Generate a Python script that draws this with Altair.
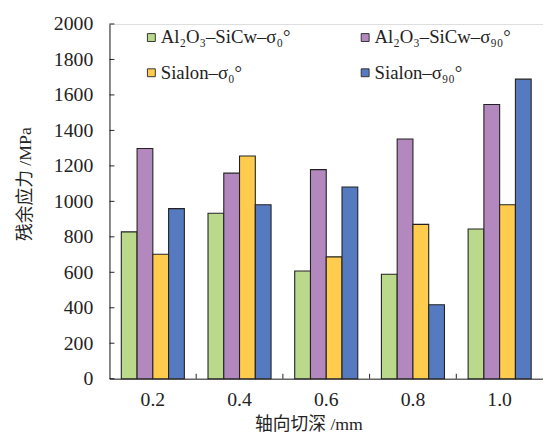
import altair as alt
import pandas as pd

depths = ["0.2", "0.4", "0.6", "0.8", "1.0"]
series = ["Al₂O₃–SiCw–σ₀°", "Al₂O₃–SiCw–σ₉₀°", "Sialon–σ₀°", "Sialon–σ₉₀°"]
al_0 = [828, 933, 607, 589, 844]
al_90 = [1298, 1159, 1179, 1352, 1546]
si_0 = [702, 1256, 687, 870, 981]
si_90 = [959, 981, 1081, 417, 1689]
colors = ["#BBD98B", "#B388BF", "#FFCC4E", "#567ABF"]
y_ticks = [0, 200, 400, 600, 800, 1000, 1200, 1400, 1600, 1800, 2000]
x_boundaries = ["0.4", "0.6", "0.8", "1.0"]

rows = []
for s, vals in zip(series, [al_0, al_90, si_0, si_90]):
    for d, v in zip(depths, vals):
        rows.append({"depth": d, "series": s, "value": v})
df = pd.DataFrame(rows)

latin = "Liberation Serif"
mixed = "Liberation Serif, Noto Sans CJK SC"

xscale = alt.Scale(domain=depths, paddingInner=0, paddingOuter=0)
yscale = alt.Scale(domain=[0, 2000], nice=False)

x_axis = alt.Axis(title="轴向切深 /mm", labelAngle=0, ticks=False, tickSize=0,
                  labelPadding=11, titleX=202, titleY=47,
                  titleBaseline="middle", titleAlign="center")
y_axis = alt.Axis(title="残余应力 /MPa", values=y_ticks, format="d",
                  labelOverlap=False, ticks=False, tickSize=0, grid=False,
                  labelPadding=17, titleX=-85, titleY=162,
                  titleBaseline="middle", titleAlign="center", titleAngle=-90)

bars = alt.Chart(df).mark_bar(stroke="#222", strokeWidth=1.1).encode(
    x=alt.X("depth:N", scale=xscale, sort=depths, axis=x_axis),
    xOffset=alt.XOffset("series:N", sort=series,
                        scale=alt.Scale(domain=series, paddingInner=0, paddingOuter=0.75)),
    y=alt.Y("value:Q", scale=yscale, axis=y_axis),
    color=alt.Color("series:N", sort=series,
                    scale=alt.Scale(domain=series, range=colors),
                    legend=alt.Legend(title=None, orient="none", legendX=33, legendY=4,
                                      direction="horizontal",
                                      columns=2, columnPadding=66, rowPadding=16,
                                      symbolType="square", symbolSize=64,
                                      symbolStrokeColor="#333", symbolStrokeWidth=1,
                                      labelOffset=0, labelLimit=300)),
)

ytick_df = pd.DataFrame({"t": y_ticks})
yticks = alt.Chart(ytick_df).mark_rule(color="#222", strokeWidth=1).encode(
    y=alt.Y("t:Q", scale=yscale, axis=y_axis),
    x=alt.value(0),
    x2=alt.value(5),
)

xb_df = pd.DataFrame({"depth": x_boundaries})
xticks = alt.Chart(xb_df).mark_rule(color="#222", strokeWidth=1).encode(
    x=alt.X("depth:N", scale=xscale, sort=depths, bandPosition=0, axis=x_axis),
    y=alt.value(360),
    y2=alt.value(355),
)

chart = alt.layer(bars, yticks, xticks).properties(
    width=440, height=360,
    autosize=alt.AutoSizeParams(type="none"),
    padding={"left": 103, "top": 13, "right": 0, "bottom": 60},
).configure_view(stroke=None).configure(
    background="white", font=mixed
).configure_axis(
    labelFont=latin, labelFontSize=20, labelColor="#222", domainColor="#222",
    titleFont=mixed, titleFontSize=18, titleFontWeight="normal", titleColor="#222",
).configure_legend(
    labelFont=latin, labelFontSize=19, labelColor="#222",
)

chart.save("out.html", embed_options={"renderer": "svg", "actions": False})
